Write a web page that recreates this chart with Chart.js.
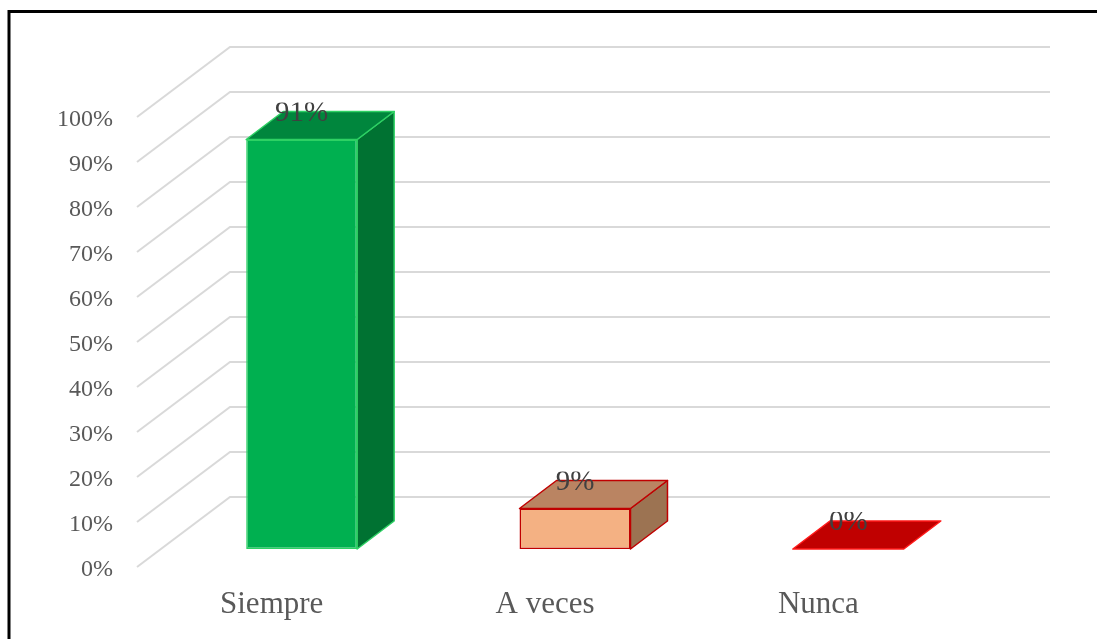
<!DOCTYPE html>
<html>
<head>
<meta charset="utf-8">
<script src="https://cdn.jsdelivr.net/npm/chart.js@4/dist/chart.umd.min.js"></script>
<style>
  html, body { margin: 0; padding: 0; background: #fff; overflow: hidden; }
  canvas { display: block; }
</style>
</head>
<body>
<canvas id="chart" width="1097" height="639"></canvas>
<script>
// categorías y porcentajes de respuesta
const categories = ['Siempre', 'A veces', 'Nunca'];
const values = [91, 9, 0];
const tickValues = [0, 10, 20, 30, 40, 50, 60, 70, 80, 90, 100];
const tickLabels = tickValues.map(v => v + '%');

// colores de cada barra: cara frontal, superior, lateral y borde
const frontColors = ['#00B050', '#F4B183', '#C00000'];
const topColors = ['#00863D', '#BA8462', '#C00000'];
const sideColors = ['#007232', '#9C7352', '#C00000'];
const edgeColors = ['#2ED164', '#C00000', '#FF1A1A'];

const FONT = '"Liberation Serif", "Times New Roman", serif';

// desplazamientos de la perspectiva respecto al plano de las barras
const FRONT = { dx: -28, dy: 18 };
const BACK = { dx: 65, dy: -52 };
const BAR_DEPTH = { dx: 37, dy: -28 };

const pseudo3d = {
  id: 'pseudo3d',
  beforeDraw(chart) {
    const ctx = chart.ctx;
    ctx.save();
    ctx.fillStyle = '#fff';
    ctx.fillRect(0, 0, chart.width, chart.height);
    // marco negro
    ctx.strokeStyle = '#000';
    ctx.lineWidth = 3;
    ctx.strokeRect(9, 11.5, chart.width + 20, chart.height + 20);
    ctx.restore();
  },
  beforeDatasetsDraw(chart) {
    const ctx = chart.ctx;
    const y = chart.scales.y;
    const { left, right } = chart.chartArea;
    ctx.save();
    ctx.strokeStyle = '#D9D9D9';
    ctx.lineWidth = 2;
    tickValues.forEach(v => {
      const py = y.getPixelForValue(v);
      ctx.beginPath();
      ctx.moveTo(left + FRONT.dx, py + FRONT.dy);
      ctx.lineTo(left + BACK.dx, py + BACK.dy);
      ctx.lineTo(right + BACK.dx, py + BACK.dy);
      ctx.stroke();
    });
    // etiquetas del eje vertical
    ctx.fillStyle = '#595959';
    ctx.font = '24px ' + FONT;
    ctx.textAlign = 'right';
    ctx.textBaseline = 'alphabetic';
    tickValues.forEach((v, i) => {
      const py = y.getPixelForValue(v) + FRONT.dy;
      ctx.fillText(tickLabels[i], 113, py + 9);
    });
    // etiquetas de categorías
    ctx.font = '31px ' + FONT;
    ctx.textAlign = 'center';
    const x = chart.scales.x;
    categories.forEach((c, i) => {
      ctx.fillText(c, x.getPixelForValue(i) + FRONT.dx - 2, 613);
    });
    ctx.restore();
  },
  afterDatasetsDraw(chart) {
    const ctx = chart.ctx;
    const meta = chart.getDatasetMeta(0);
    ctx.save();
    ctx.lineWidth = 1.5;
    ctx.lineJoin = 'round';
    meta.data.forEach((bar, i) => {
      const half = bar.width / 2;
      const l = bar.x - half, r = bar.x + half;
      const t = bar.y, b = bar.base;
      ctx.strokeStyle = edgeColors[i];
      // cara lateral
      if (b - t > 0.5) {
        ctx.fillStyle = sideColors[i];
        ctx.beginPath();
        ctx.moveTo(r, t);
        ctx.lineTo(r + BAR_DEPTH.dx, t + BAR_DEPTH.dy);
        ctx.lineTo(r + BAR_DEPTH.dx, b + BAR_DEPTH.dy);
        ctx.lineTo(r, b);
        ctx.closePath();
        ctx.fill();
        ctx.stroke();
      }
      // cara superior
      ctx.fillStyle = topColors[i];
      ctx.beginPath();
      ctx.moveTo(l, t);
      ctx.lineTo(r, t);
      ctx.lineTo(r + BAR_DEPTH.dx, t + BAR_DEPTH.dy);
      ctx.lineTo(l + BAR_DEPTH.dx, t + BAR_DEPTH.dy);
      ctx.closePath();
      ctx.fill();
      ctx.stroke();
    });
    // valores sobre las barras (recortados por arriba)
    ctx.fillStyle = '#404040';
    ctx.font = '29px ' + FONT;
    ctx.textAlign = 'center';
    ctx.textBaseline = 'alphabetic';
    meta.data.forEach((bar, i) => {
      const base = bar.y - 19;
      ctx.save();
      ctx.beginPath();
      ctx.rect(bar.x - 60, base - 18, 120, 30);
      ctx.clip();
      ctx.fillText(values[i] + '%', bar.x, base);
      ctx.restore();
    });
    ctx.restore();
  }
};

new Chart(document.getElementById('chart'), {
  type: 'bar',
  data: {
    labels: categories,
    datasets: [{
      data: values,
      backgroundColor: frontColors,
      borderColor: edgeColors,
      borderWidth: 1.5,
      borderSkipped: false,
      categoryPercentage: 1,
      barPercentage: 0.406
    }]
  },
  options: {
    responsive: false,
    animation: false,
    devicePixelRatio: 1,
    layout: { padding: { left: 165, right: 112, top: 99, bottom: 90 } },
    scales: {
      x: { display: false },
      y: { display: false, min: 0, max: 100 }
    },
    plugins: {
      legend: { display: false },
      tooltip: { enabled: false }
    }
  },
  plugins: [pseudo3d]
});
</script>
</body>
</html>
